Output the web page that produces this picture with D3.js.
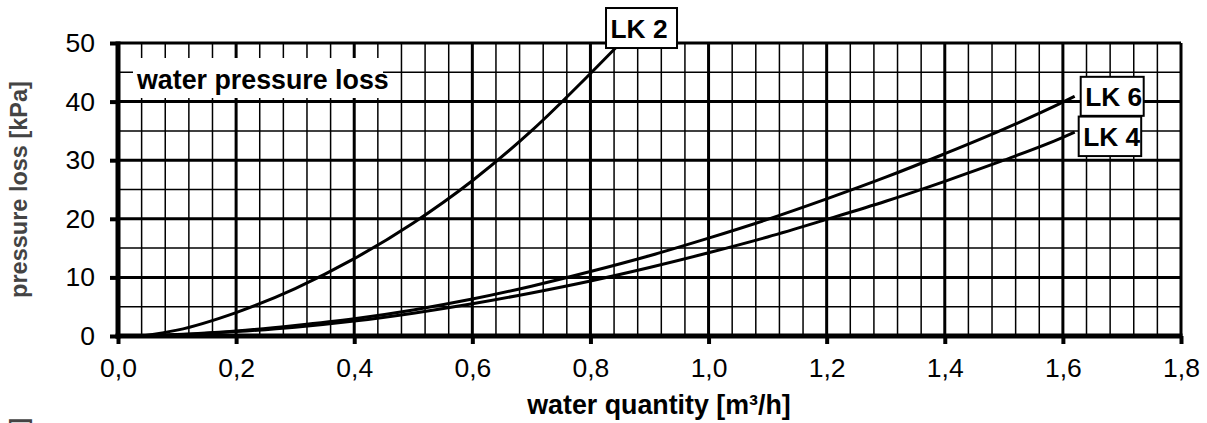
<!DOCTYPE html>
<html>
<head>
<meta charset="utf-8">
<script src="https://cdn.jsdelivr.net/npm/d3@7"></script>
<style>
  body { margin: 0; background: #fff; }
  svg { display: block; }
  text { font-family: "Liberation Sans", Arial, Helvetica, sans-serif; }
</style>
</head>
<body>
<svg id="chart" width="1207" height="423"></svg>
<script>
// Pressure loss curves (flow in m³/h, loss in kPa)
const lk2Flow = [0.04, 0.1, 0.2, 0.3, 0.4, 0.5, 0.6, 0.7, 0.8, 0.845];
const lk2Loss = [0, 1.0, 4.0, 8.1, 13.2, 19.3, 26.5, 35.0, 44.8, 49.4];

const lk46Flow = [0.04, 0.1, 0.2, 0.3, 0.4, 0.5, 0.6, 0.7, 0.8, 0.9, 1.0, 1.1, 1.2, 1.3, 1.4, 1.5, 1.6, 1.62];
const lk6Loss  = [0, 0.25, 0.85, 1.8, 2.95, 4.45, 6.3, 8.5, 11.0, 13.7, 16.7, 19.9, 23.4, 27.1, 31.1, 35.3, 39.9, 40.9];
const lk4Loss  = [0, 0.2, 0.75, 1.5, 2.55, 3.9, 5.5, 7.35, 9.4, 11.7, 14.2, 16.9, 19.9, 23.0, 26.4, 30.0, 33.9, 34.8];

const seriesNames = ["LK 2", "LK 6", "LK 4"];

const xTickValues = [0, 0.2, 0.4, 0.6, 0.8, 1.0, 1.2, 1.4, 1.6, 1.8];
const xTickLabels = ["0,0", "0,2", "0,4", "0,6", "0,8", "1,0", "1,2", "1,4", "1,6", "1,8"];
const yTickValues = [0, 10, 20, 30, 40, 50];
const yTickLabels = ["0", "10", "20", "30", "40", "50"];

const chartTitle = "water pressure loss";
const xTitle = "water quantity [m³/h]";
const yTitle = "pressure loss [kPa]";

(function draw() {
  const svg = d3.select("#chart");
  const pLeft = 118, pRight = 1181, pTop = 43, pBottom = 336;

  const x = d3.scaleLinear().domain([0, 1.8]).range([pLeft, pRight]);
  const y = d3.scaleLinear().domain([0, 50]).range([pBottom, pTop]);

  svg.append("rect").attr("width", 1207).attr("height", 423).attr("fill", "#fff");

  // Grid: minor every 0.04 m³/h and 5 kPa, major every 0.2 m³/h and 10 kPa
  const grid = svg.append("g");
  const minorX = d3.range(1, 45).filter(i => i % 5 !== 0).map(i => i * 0.04);
  const majorX = d3.range(1, 9).map(i => i * 0.2);
  const minorY = [5, 15, 25, 35, 45];
  const majorY = [10, 20, 30, 40];

  grid.append("g").selectAll("line").data(minorX).join("line")
    .attr("x1", d => x(d)).attr("x2", d => x(d))
    .attr("y1", y(0)).attr("y2", y(50))
    .attr("stroke", "#000").attr("stroke-width", 1.5);
  grid.append("g").selectAll("line").data(minorY).join("line")
    .attr("x1", x(0)).attr("x2", x(1.8))
    .attr("y1", d => y(d)).attr("y2", d => y(d))
    .attr("stroke", "#000").attr("stroke-width", 1.5);
  grid.append("g").selectAll("line").data(majorX).join("line")
    .attr("x1", d => x(d)).attr("x2", d => x(d))
    .attr("y1", y(0)).attr("y2", y(50))
    .attr("stroke", "#000").attr("stroke-width", 3);
  grid.append("g").selectAll("line").data(majorY).join("line")
    .attr("x1", x(0)).attr("x2", x(1.8))
    .attr("y1", d => y(d)).attr("y2", d => y(d))
    .attr("stroke", "#000").attr("stroke-width", 3);

  // Chart title on a white patch
  svg.append("rect").attr("x", 133).attr("y", 58).attr("width", 250).attr("height", 40).attr("fill", "#fff");
  svg.append("text").attr("x", 137).attr("y", 88.5)
    .attr("font-size", 26.8).attr("font-weight", "bold").attr("fill", "#000")
    .text(chartTitle);

  // Curves
  const line = d3.line().x(d => x(d[0])).y(d => y(d[1])).curve(d3.curveMonotoneX);
  const series = [
    { name: seriesNames[0], pts: d3.zip(lk2Flow, lk2Loss), box: { dx: -11, dy: -38.5, w: 71, h: 40 } },
    { name: seriesNames[1], pts: d3.zip(lk46Flow, lk6Loss), box: { dx: 6, dy: -19.5, w: 63, h: 39 } },
    { name: seriesNames[2], pts: d3.zip(lk46Flow, lk4Loss), box: { dx: 4, dy: -15.5, w: 62.5, h: 39.5 } }
  ];
  svg.append("g").selectAll("path").data(series).join("path")
    .attr("d", d => line(d.pts))
    .attr("fill", "none").attr("stroke", "#000").attr("stroke-width", 3);

  // Frame: top and right borders
  svg.append("line").attr("x1", x(0)).attr("x2", x(1.8)).attr("y1", y(50)).attr("y2", y(50))
    .attr("stroke", "#000").attr("stroke-width", 3);
  svg.append("line").attr("x1", x(1.8)).attr("x2", x(1.8)).attr("y1", y(0)).attr("y2", y(50))
    .attr("stroke", "#000").attr("stroke-width", 3);

  // Axes
  const xAxis = d3.axisBottom(x).tickValues(xTickValues)
    .tickFormat((d, i) => xTickLabels[i]).tickSize(8).tickSizeOuter(0).tickPadding(14.5);
  const yAxis = d3.axisLeft(y).tickValues(yTickValues)
    .tickFormat((d, i) => yTickLabels[i]).tickSize(8).tickSizeOuter(0).tickPadding(15);

  const gx = svg.append("g").attr("transform", `translate(0,${pBottom})`).call(xAxis);
  const gy = svg.append("g").attr("transform", `translate(${pLeft},0)`).call(yAxis);
  [gx, gy].forEach(g => {
    g.select(".domain").attr("stroke", "#000").attr("stroke-width", 5);
    g.selectAll(".tick line").attr("stroke", "#000").attr("stroke-width", 4);
    g.selectAll(".tick text").attr("font-size", 26.5).attr("fill", "#000")
      .attr("font-family", "\"Liberation Sans\", Arial, sans-serif");
  });
  // Extend the domain lines so the corner is closed
  gx.select(".domain").attr("d", `M${pLeft - 2.5},0H${pRight + 1.5}`);
  gy.select(".domain").attr("d", `M0,${pBottom + 2.5}V${pTop - 1.5}`);

  // Axis titles
  svg.append("text").attr("x", 659).attr("y", 414).attr("text-anchor", "middle")
    .attr("font-size", 26.8).attr("font-weight", "bold").attr("fill", "#000")
    .text(xTitle);
  svg.append("text").attr("transform", `translate(27,${(pTop + pBottom) / 2}) rotate(-90)`)
    .attr("text-anchor", "middle").attr("font-size", 23.5).attr("font-weight", "bold").attr("fill", "#444")
    .text(yTitle);
  // Title of the next chart on the sheet, mostly below the visible area
  svg.append("text").attr("transform", "translate(27,418) rotate(-90)")
    .attr("text-anchor", "end").attr("font-size", 23.5).attr("font-weight", "bold").attr("fill", "#444")
    .text(yTitle);

  // Series labels in boxes at the curve ends
  const labels = svg.append("g").selectAll("g").data(series).join("g")
    .attr("transform", d => {
      const end = d.pts[d.pts.length - 1];
      return `translate(${x(end[0]) + d.box.dx},${y(end[1]) + d.box.dy})`;
    });
  labels.append("rect").attr("width", d => d.box.w).attr("height", d => d.box.h)
    .attr("fill", "#fff").attr("stroke", "#000").attr("stroke-width", 2);
  labels.append("text").attr("x", 4.5).attr("y", 29.5)
    .attr("font-size", 26.3).attr("font-weight", "bold").attr("fill", "#000")
    .text(d => d.name);
})();
</script>
</body>
</html>
